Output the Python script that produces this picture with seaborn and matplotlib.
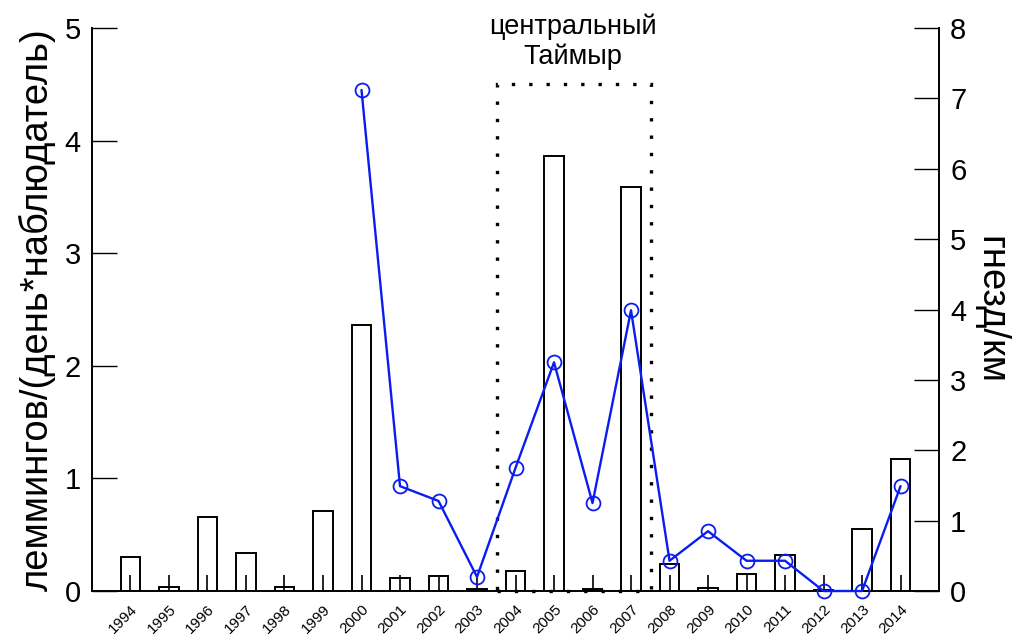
import matplotlib
matplotlib.use("Agg")
import matplotlib.pyplot as plt
from matplotlib.patches import Rectangle
import seaborn as sns
import pandas as pd

# Lemming abundance (bars, left axis) and nest density (line, right axis)
years = list(range(1994, 2015))
lemmings = [0.30, 0.04, 0.66, 0.34, 0.04, 0.71, 2.36, 0.115, 0.13, 0.015,
            0.18, 3.86, 0.015, 3.59, 0.24, 0.03, 0.15, 0.32, 0.01, 0.55, 1.17]
nest_years = list(range(2000, 2015))
nests = [7.12, 1.49, 1.28, 0.20, 1.75, 3.25, 1.25, 3.99, 0.43, 0.85,
         0.43, 0.43, 0.0, 0.0, 1.49]

region_label = "центральный\nТаймыр"
left_label = "леммингов/(день*наблюдатель)"
right_label = "гнезд/км"

sns.set_theme(style="white")
plt.rcParams["font.family"] = ["Liberation Sans", "DejaVu Sans"]
plt.rcParams.update({"text.color": "black", "axes.labelcolor": "black",
                     "xtick.color": "black", "ytick.color": "black"})

fig = plt.figure(figsize=(10.13, 6.39), dpi=100)
ax = fig.add_axes([0.0908, 0.0751, 0.8362, 0.8810])

bars_df = pd.DataFrame({"year": years, "value": lemmings})
sns.barplot(data=bars_df, x="year", y="value", native_scale=True, width=0.5,
            color="white", edgecolor="black", linewidth=1.4, ax=ax,
            errorbar=None, zorder=2)
ax.set_axisbelow(False)

ax.set_xlim(1993, 2015)
ax.set_ylim(0, 5)
ax.set_yticks([0, 1, 2, 3, 4, 5])
ax.set_xticks(years)
ax.set_xticklabels([str(y) for y in years], rotation=45, ha="right",
                   rotation_mode="anchor", fontsize=11)
ax.tick_params(axis="x", direction="in", length=11.5, width=1.2,
               color="black", pad=8, bottom=True)
ax.tick_params(axis="y", direction="in", length=18, width=1.0,
               color="black", labelsize=21, pad=8, left=True)
ax.set_xlabel("")
ax.set_ylabel(left_label, fontsize=27.5, labelpad=6)
for side in ("top", "right"):
    ax.spines[side].set_visible(False)
for side in ("left", "bottom"):
    ax.spines[side].set_color("black")
    ax.spines[side].set_linewidth(1.4)

# Dotted frame around the central Taymyr seasons
ax.add_patch(Rectangle((2003.52, 0), 4.0, 4.5, fill=False, edgecolor="black",
                       linewidth=2.4, linestyle=(0, (1, 4.2)), zorder=3,
                       clip_on=False))
ax.text(2005.5, 4.88, region_label, ha="center", va="center", fontsize=19.5,
        linespacing=1.2)

ax2 = ax.twinx()
nests_df = pd.DataFrame({"year": nest_years, "value": nests})
sns.lineplot(data=nests_df, x="year", y="value", ax=ax2, color="#0a1cf0",
             linewidth=1.7, marker="o", markersize=10,
             markerfacecolor="none", markeredgecolor="#0a1cf0",
             markeredgewidth=1.3, zorder=4)
for line in ax2.lines:
    line.set_clip_on(False)
ax2.set_ylim(0, 8)
ax2.set_xlim(1993, 2015)
ax2.set_yticks(range(0, 9))
ax2.tick_params(axis="y", direction="in", length=18, width=1.0,
                color="black", labelsize=21, pad=8, right=True)
ax2.set_ylabel(right_label, fontsize=27.5, rotation=-90, labelpad=30)
ax2.set_xlabel("")
for side in ("top", "left", "bottom"):
    ax2.spines[side].set_visible(False)
ax2.spines["right"].set_color("black")
ax2.spines["right"].set_linewidth(1.4)

fig.savefig("out.png", dpi=100, facecolor="white")
